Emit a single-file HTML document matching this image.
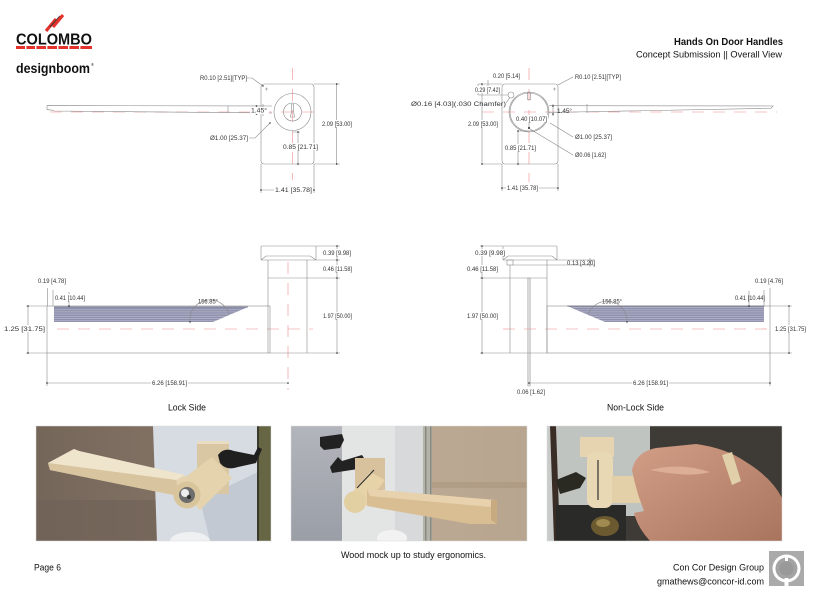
<!DOCTYPE html>
<html><head><meta charset="utf-8"><style>
html,body{margin:0;padding:0;background:#fff;width:818px;height:600px;overflow:hidden}
svg{display:block}
.d{font-family:"Liberation Sans",sans-serif;font-size:6.1px;fill:#333}
.t{font-family:"Liberation Sans",sans-serif;fill:#111}
</style></head><body>
<svg width="818" height="600" viewBox="0 0 818 600" xmlns="http://www.w3.org/2000/svg">
<defs>
<clipPath id="c1"><rect x="36" y="426" width="235" height="115"/></clipPath>
<clipPath id="c2"><rect x="291" y="426" width="236" height="115"/></clipPath>
<clipPath id="c3"><rect x="547" y="426" width="235" height="115"/></clipPath>
<linearGradient id="g1" x1="0" x2="1" y1="0" y2="0"><stop offset="0" stop-color="#75665a"/><stop offset="1" stop-color="#8b7b6c"/></linearGradient>
<linearGradient id="g2" x1="0" x2="0" y1="0" y2="1"><stop offset="0" stop-color="#b2b5bb"/><stop offset="1" stop-color="#9a9ea6"/></linearGradient>
<linearGradient id="g3" x1="0" x2="1" y1="0" y2="0"><stop offset="0" stop-color="#c1ae98"/><stop offset="1" stop-color="#b8a58f"/></linearGradient>
<linearGradient id="hand" x1="0" x2="1" y1="0" y2="1"><stop offset="0" stop-color="#d29e86"/><stop offset="1" stop-color="#a8745e"/></linearGradient>
<pattern id="hatch" width="4" height="2.2" patternUnits="userSpaceOnUse"><rect width="4" height="2.2" fill="#8d8fac"/><rect y="1.4" width="4" height="0.6" fill="#c3c4d4"/></pattern>
</defs>

<!-- Logos -->
<g>
<line x1="46" y1="31" x2="56" y2="19" stroke="#e3312b" stroke-width="3.2"/>
<line x1="50" y1="27" x2="60" y2="16" stroke="#3a3a3a" stroke-width="1.2"/>
<line x1="53" y1="27" x2="63" y2="15" stroke="#e3312b" stroke-width="3.2"/>
<text x="16" y="44.5" class="t" font-weight="bold" font-size="16" textLength="76" lengthAdjust="spacingAndGlyphs" fill="#2b2b2b">COLOMBO</text>
<rect x="16" y="46" width="76" height="3" fill="#e3312b"/>
<g fill="#fff"><rect x="25" y="46" width="1.4" height="3"/><rect x="35" y="46" width="1.4" height="3"/><rect x="46" y="46" width="1.4" height="3"/><rect x="57" y="46" width="1.4" height="3"/><rect x="68" y="46" width="1.4" height="3"/><rect x="79" y="46" width="1.4" height="3"/></g>
<text x="16" y="73" class="t" font-weight="bold" font-size="13.5" textLength="74" lengthAdjust="spacingAndGlyphs" fill="#1a1a1a">designboom</text>
<text x="91" y="66" class="t" font-size="4">®</text>
</g>

<!-- Header -->
<text x="783" y="45" text-anchor="end" class="t" font-weight="bold" font-size="10" textLength="109" lengthAdjust="spacingAndGlyphs">Hands On Door Handles</text>
<text x="782" y="57.5" text-anchor="end" class="t" font-size="9.5" textLength="146" lengthAdjust="spacingAndGlyphs">Concept Submission  ||  Overall View</text>

<!-- ============ TOP LEFT DRAWING ============ -->
<g stroke="#f08a8a" stroke-width="0.6" fill="none" stroke-dasharray="12 9">
<line x1="50" y1="112" x2="323" y2="112"/>
<line x1="292.5" y1="68" x2="292.5" y2="180"/>
</g>
<g stroke="#8a8a8a" stroke-width="0.6" fill="none">
<rect x="261" y="84" width="53" height="80" rx="3"/>
<circle cx="292.5" cy="112" r="18.5"/>
<circle cx="292.5" cy="112" r="9"/>
<path d="M291.5,104 h2 v7 l1,6 h-4 l1,-6 z"/>
<path d="M272,106 L47,105.6 L47,109.6 L53,110.3 L54,111 L272,113"/>
<line x1="228" y1="105.7" x2="228" y2="112"/>
<line x1="263" y1="104" x2="263" y2="116"/>
<path d="M247,78 H252 L263,86"/>
<path d="M265,89 h3 M266.5,87.5 v3"/>
<path d="M314,84 H340 M314,164 H340 M336.7,84 V164"/>
<path d="M249,138 H255 L270,123"/>
<path d="M298,132 V164 M292.5,132 H300"/>
<path d="M261,164 V193 M314,164 V193 M261,190 H314"/>
</g>
<g fill="#222"><circle cx="256.5" cy="106" r="0.8"/><circle cx="256.5" cy="114" r="0.8"/><circle cx="336.7" cy="84" r="0.8"/><circle cx="336.7" cy="164" r="0.8"/><circle cx="298" cy="132" r="0.8"/><circle cx="298" cy="164" r="0.8"/><circle cx="261" cy="190" r="0.8"/><circle cx="314" cy="190" r="0.8"/><circle cx="263" cy="86" r="0.7"/><circle cx="270" cy="123" r="0.7"/></g>
<g fill="#fff"><rect x="321" y="120" width="32" height="7"/><rect x="282" y="143" width="37" height="7"/><rect x="274" y="186" width="39" height="7"/><rect x="250" y="107" width="19" height="7"/></g>
<text class="d" x="200" y="80" textLength="47" lengthAdjust="spacingAndGlyphs">R0.10 [2.51][TYP]</text>
<text class="d" x="322" y="126" textLength="30" lengthAdjust="spacingAndGlyphs">2.09 [53.00]</text>
<text class="d" x="210" y="140" textLength="38" lengthAdjust="spacingAndGlyphs">Ø1.00 [25.37]</text>
<text class="d" x="283" y="149" textLength="35" lengthAdjust="spacingAndGlyphs">0.85 [21.71]</text>
<text class="d" x="275" y="192" textLength="37" lengthAdjust="spacingAndGlyphs">1.41 [35.78]</text>
<text class="d" x="251" y="112.5" textLength="16" lengthAdjust="spacingAndGlyphs">1.45°</text>

<!-- ============ TOP RIGHT DRAWING ============ -->
<g stroke="#f08a8a" stroke-width="0.6" fill="none" stroke-dasharray="12 9">
<line x1="482" y1="112" x2="777" y2="112"/>
<line x1="529" y1="68" x2="529" y2="182"/>
</g>
<g stroke="#8a8a8a" stroke-width="0.6" fill="none">
<rect x="502" y="84" width="56" height="80" rx="3"/>
<circle cx="529" cy="112" r="20"/>
<circle cx="529" cy="112" r="19"/>
<circle cx="511" cy="95" r="3"/>
<rect x="527.5" y="92.5" width="3" height="7"/>
<path d="M549,105.7 L773,106 L771,108.3 L549,112.5"/>
<line x1="587" y1="104" x2="587" y2="113"/>
<line x1="553" y1="104" x2="553" y2="116"/>
<path d="M478,84 H502 M478,84 V95 M478,95 H508 M488,80 V90"/>
<path d="M506,103 L510,97.5"/>
<path d="M573,77 L558,85"/>
<path d="M553,89 h3 M554.5,87.5 v3"/>
<path d="M482,84 V164 M482,164 H502"/>
<path d="M529,116 V128"/>
<path d="M550,123 L573,137"/>
<path d="M518,131 V164 M518,131 H529"/>
<path d="M530,129 L573,155"/>
<path d="M502,164 V191 M558,164 V191 M502,188 H558"/>
</g>
<g fill="#222"><circle cx="529" cy="128" r="1"/><circle cx="482" cy="84" r="0.8"/><circle cx="482" cy="164" r="0.8"/><circle cx="518" cy="131" r="0.8"/><circle cx="518" cy="164" r="0.8"/><circle cx="502" cy="188" r="0.8"/><circle cx="558" cy="188" r="0.8"/><circle cx="553" cy="106" r="0.8"/><circle cx="553" cy="114" r="0.8"/></g>
<g fill="#fff"><rect x="467" y="120" width="32" height="7"/><rect x="504" y="144" width="33" height="7"/><rect x="506" y="184" width="33" height="7"/><rect x="515" y="115" width="33" height="7"/><rect x="474" y="86" width="27" height="7"/></g>
<text class="d" x="493" y="78" textLength="27" lengthAdjust="spacingAndGlyphs">0.20 [5.14]</text>
<text class="d" x="475" y="92" textLength="25" lengthAdjust="spacingAndGlyphs">0.29 [7.42]</text>
<text class="d" x="411" y="106" textLength="95" lengthAdjust="spacingAndGlyphs">Ø0.16 [4.03](.030 Chamfer)</text>
<text class="d" x="575" y="79" textLength="46" lengthAdjust="spacingAndGlyphs">R0.10 [2.51][TYP]</text>
<text class="d" x="557" y="113" textLength="15" lengthAdjust="spacingAndGlyphs">1.45°</text>
<text class="d" x="468" y="126" textLength="30" lengthAdjust="spacingAndGlyphs">2.09 [53.00]</text>
<text class="d" x="516" y="121" textLength="31" lengthAdjust="spacingAndGlyphs">0.40 [10.07]</text>
<text class="d" x="575" y="139" textLength="37" lengthAdjust="spacingAndGlyphs">Ø1.00 [25.37]</text>
<text class="d" x="505" y="150" textLength="31" lengthAdjust="spacingAndGlyphs">0.85 [21.71]</text>
<text class="d" x="575" y="157" textLength="31" lengthAdjust="spacingAndGlyphs">Ø0.06 [1.62]</text>
<text class="d" x="507" y="190" textLength="31" lengthAdjust="spacingAndGlyphs">1.41 [35.78]</text>

<!-- ============ MIDDLE LEFT (Lock Side) ============ -->
<polygon points="54,307 248,307 213,322 54,322" fill="url(#hatch)"/>
<line x1="54" y1="307" x2="248" y2="307" stroke="#555a7a" stroke-width="0.8"/>
<g stroke="#f08a8a" stroke-width="0.6" fill="none" stroke-dasharray="12 9">
<line x1="57" y1="329" x2="313" y2="329"/>
<line x1="288" y1="262" x2="288" y2="390"/>
</g>
<g stroke="#8a8a8a" stroke-width="0.6" fill="none">
<rect x="261" y="246" width="55" height="14" rx="1"/>
<path d="M261,260 L266,256 H310 L316,260"/>
<path d="M268,260 V353 M307,260 V353"/>
<path d="M268,278 H340"/>
<rect x="47" y="306" width="223" height="47"/>
<path d="M316,246 H340 M316,260 H340 M337,246 V353 M270,353 H340"/>
<path d="M26,306 H47 M26,353 H47 M28,306 V353"/>
<path d="M47.5,288 V306 M53,290 V306 M69,292 V306"/>
<path d="M47,353 V386 M47,383 H288"/>
<path d="M190,322 A20,20 0 0 1 229,314"/>
</g>
<g fill="#222"><circle cx="337" cy="246" r="0.8"/><circle cx="337" cy="260" r="0.8"/><circle cx="337" cy="278" r="0.8"/><circle cx="337" cy="353" r="0.8"/><circle cx="28" cy="306" r="0.8"/><circle cx="28" cy="353" r="0.8"/><circle cx="47" cy="383" r="0.8"/><circle cx="288" cy="383" r="0.8"/><circle cx="69" cy="306" r="0.8"/><circle cx="190" cy="322" r="0.7"/></g>
<g fill="#fff"><rect x="322" y="249" width="30" height="7"/><rect x="322" y="265" width="31" height="7"/><rect x="322" y="312" width="31" height="7"/><rect x="3" y="325" width="43" height="7"/><rect x="151" y="379" width="37" height="7"/><rect x="37" y="277" width="30" height="7"/><rect x="54" y="294" width="32" height="7"/></g>
<text class="d" x="323" y="255" textLength="28" lengthAdjust="spacingAndGlyphs">0.39 [9.98]</text>
<text class="d" x="323" y="271" textLength="29" lengthAdjust="spacingAndGlyphs">0.46 [11.58]</text>
<text class="d" x="323" y="318" textLength="29" lengthAdjust="spacingAndGlyphs">1.97 [50.00]</text>
<text class="d" x="38" y="283" textLength="28" lengthAdjust="spacingAndGlyphs">0.19 [4.78]</text>
<text class="d" x="55" y="300" textLength="30" lengthAdjust="spacingAndGlyphs">0.41 [10.44]</text>
<text class="d" x="4" y="331" textLength="41" lengthAdjust="spacingAndGlyphs">1.25 [31.75]</text>
<text class="d" x="198" y="303.5" textLength="20" lengthAdjust="spacingAndGlyphs">156.85°</text>
<text class="d" x="152" y="385" textLength="35" lengthAdjust="spacingAndGlyphs">6.26 [158.91]</text>
<text class="t" x="168" y="410.5" font-size="9.5" textLength="38" lengthAdjust="spacingAndGlyphs">Lock Side</text>

<!-- ============ MIDDLE RIGHT (Non-Lock Side) ============ -->
<polygon points="567,306 764,306 764,322 605,322" fill="url(#hatch)"/>
<line x1="567" y1="306" x2="764" y2="306" stroke="#555a7a" stroke-width="0.8"/>
<rect x="527.7" y="278" width="2.5" height="108" fill="#d8d8d8" stroke="#999" stroke-width="0.4"/>
<g stroke="#f08a8a" stroke-width="0.6" fill="none" stroke-dasharray="12 9">
<line x1="503" y1="329" x2="770" y2="329"/>
</g>
<g stroke="#8a8a8a" stroke-width="0.6" fill="none">
<rect x="503" y="246" width="54" height="14" rx="1"/>
<path d="M503,260 L508,256 H552 L557,260"/>
<rect x="507" y="260" width="6" height="5"/>
<path d="M510,265 V353 M547,260 V353"/>
<path d="M480,278 H547"/>
<rect x="547" y="306" width="223" height="47"/>
<path d="M480,246 H503 M482,246 V353 M480,353 H547"/>
<path d="M557,260 H595 M513,265 H595 M590,258 V267"/>
<path d="M770,306 H792 M770,353 H792 M789,306 V353"/>
<path d="M764,290 V306 M770,288 V306 M749,291 V306"/>
<path d="M770,353 V386 M529,383 H770"/>
<path d="M588,315 A20,20 0 0 1 627,322"/>
</g>
<g fill="#222"><circle cx="482" cy="246" r="0.8"/><circle cx="482" cy="278" r="0.8"/><circle cx="482" cy="353" r="0.8"/><circle cx="789" cy="306" r="0.8"/><circle cx="789" cy="353" r="0.8"/><circle cx="529" cy="383" r="0.8"/><circle cx="770" cy="383" r="0.8"/><circle cx="749" cy="306" r="0.8"/><circle cx="627" cy="322" r="0.7"/></g>
<g fill="#fff"><rect x="474" y="249" width="32" height="7"/><rect x="466" y="265" width="33" height="7"/><rect x="466" y="312" width="33" height="7"/><rect x="774" y="325" width="33" height="7"/><rect x="632" y="379" width="37" height="7"/><rect x="516" y="388" width="30" height="7"/></g>
<text class="d" x="475" y="255" textLength="30" lengthAdjust="spacingAndGlyphs">0.39 [9.98]</text>
<text class="d" x="467" y="271" textLength="31" lengthAdjust="spacingAndGlyphs">0.46 [11.58]</text>
<text class="d" x="567" y="265" textLength="28" lengthAdjust="spacingAndGlyphs">0.13 [3.20]</text>
<text class="d" x="467" y="318" textLength="31" lengthAdjust="spacingAndGlyphs">1.97 [50.00]</text>
<text class="d" x="755" y="283" textLength="28" lengthAdjust="spacingAndGlyphs">0.19 [4.76]</text>
<text class="d" x="735" y="300" textLength="30" lengthAdjust="spacingAndGlyphs">0.41 [10.44]</text>
<text class="d" x="602" y="303.5" textLength="20" lengthAdjust="spacingAndGlyphs">156.85°</text>
<text class="d" x="775" y="331" textLength="31" lengthAdjust="spacingAndGlyphs">1.25 [31.75]</text>
<text class="d" x="633" y="385" textLength="35" lengthAdjust="spacingAndGlyphs">6.26 [158.91]</text>
<text class="d" x="517" y="394" textLength="28" lengthAdjust="spacingAndGlyphs">0.06 [1.62]</text>
<text class="t" x="607" y="410.5" font-size="9.5" textLength="57" lengthAdjust="spacingAndGlyphs">Non-Lock Side</text>

<!-- ============ PHOTO 1 ============ -->
<g clip-path="url(#c1)">
<rect x="36" y="426" width="235" height="115" fill="url(#g1)"/>
<rect x="36" y="500" width="120" height="41" fill="#6f6156" opacity="0.6"/>
<polygon points="153,426 262,426 262,541 157,541" fill="#d7dce2"/>
<polygon points="200,500 262,470 262,541 210,541" fill="#c2c9d2"/>
<rect x="258" y="426" width="13" height="115" fill="#676644"/>
<rect x="257" y="426" width="2" height="115" fill="#3a3a2a"/>
<rect x="197" y="441" width="32" height="53" fill="#d9c6a2"/>
<rect x="197" y="441" width="32" height="3" fill="#e8dcc2"/>
<path d="M218,455 q6,-8 16,-4 l20,4 l4,-8 l4,2 l-6,14 l-18,4 q-12,4 -18,-4 z" fill="#1f1f1f"/>
<polygon points="48,463 74,449 79,451 185,475 183,497 50,470" fill="#e5d4b4"/>
<polygon points="48,463 74,449 79,451 185,475 176,480" fill="#efe4cc"/>
<polygon points="50,470 183,497 176,480 48,463" fill="#d8c49e"/>
<polygon points="176,484 212,457 232,478 200,510" fill="#e4d3ad"/>
<circle cx="187" cy="495" r="13.5" fill="#d9c59c"/>
<circle cx="187" cy="495" r="8" fill="#6d6d6d"/>
<circle cx="185" cy="493" r="4" fill="#eeeeee"/>
<circle cx="189" cy="497" r="2" fill="#333"/>
<ellipse cx="190" cy="541" rx="20" ry="9" fill="#eef0f2"/>
</g>
<rect x="36" y="426" width="235" height="115" fill="none" stroke="#ddd" stroke-width="0.5"/>

<!-- ============ PHOTO 2 ============ -->
<g clip-path="url(#c2)">
<rect x="291" y="426" width="236" height="115" fill="url(#g3)"/>
<rect x="291" y="426" width="52" height="115" fill="url(#g2)"/>
<rect x="342" y="426" width="81" height="115" fill="#e3e5e5"/>
<rect x="395" y="426" width="28" height="115" fill="#d7d9da"/>
<rect x="423" y="426" width="9" height="115" fill="#b3b3aa"/>
<rect x="425" y="426" width="1.5" height="115" fill="#8a8a80"/>
<rect x="430" y="426" width="1.5" height="115" fill="#8a8a80"/>
<rect x="432" y="482" width="95" height="6" fill="#a8937a" opacity="0.5"/>
<path d="M320,437 l22,-3 l2,6 l-4,8 l-16,2 l-4,-4 z" fill="#222"/>
<path d="M330,467 l8,-10 l4,4 l20,-6 l4,6 l-8,8 l-26,4 z" fill="#222"/>
<rect x="355" y="458" width="30" height="32" fill="#d8c29e"/>
<polygon points="348,497 370,472 385,480 364,508" fill="#e6d3a8"/>
<polygon points="367,489 495,500 497,524 470,524 367,506" fill="#d9bd93"/>
<polygon points="367,489 495,500 490,507 370,496" fill="#e8d2ad"/>
<polygon points="491,500 497,500 497,524 491,520" fill="#c8aa80"/>
<ellipse cx="355" cy="502" rx="11" ry="11" fill="#e2cfa2"/>
<line x1="357" y1="488" x2="374" y2="470" stroke="#333" stroke-width="1.2"/>
<ellipse cx="392" cy="538" rx="15" ry="8" fill="#f2f2f2"/>
</g>
<rect x="291" y="426" width="236" height="115" fill="none" stroke="#ddd" stroke-width="0.5"/>

<!-- ============ PHOTO 3 ============ -->
<g clip-path="url(#c3)">
<rect x="547" y="426" width="235" height="115" fill="#3e3a35"/>
<rect x="547" y="426" width="103" height="90" fill="#c0c4c1"/>
<rect x="547" y="426" width="10" height="115" fill="#c8cbc9"/>
<polygon points="550,426 556,426 560,541 554,541" fill="#3a2d26"/>
<rect x="556" y="505" width="70" height="36" fill="#2a2a28"/>
<ellipse cx="605" cy="526" rx="14" ry="10" fill="#6b5a30"/>
<ellipse cx="603" cy="523" rx="7" ry="4" fill="#a08a50"/>
<path d="M556,480 l20,-8 l10,6 l-6,10 l-20,6 z" fill="#2a2a22"/>
<rect x="580" y="437" width="34" height="20" fill="#e6d4b0"/>
<rect x="587" y="452" width="26" height="56" rx="8" fill="#e8d8b4"/>
<line x1="598" y1="460" x2="598" y2="500" stroke="#333" stroke-width="1.2"/>
<rect x="612" y="476" width="42" height="27" fill="#e4d0a8"/>
<path d="M632,470 q4,-18 24,-22 l40,-4 q30,4 50,18 q26,16 36,36 l0,45 l-130,0 q-14,-14 -18,-30 l10,-2 q-8,-20 -12,-41 z" fill="url(#hand)"/>
<path d="M650,470 q30,-8 60,2 q-20,6 -60,-2 z" fill="#dcae96"/>
<polygon points="722,455 732,452 741,481 732,485" fill="#e0cfa8"/>
</g>
<rect x="547" y="426" width="235" height="115" fill="none" stroke="#ddd" stroke-width="0.5"/>

<!-- Footer -->
<text class="t" x="341" y="558" font-size="9" textLength="145" lengthAdjust="spacingAndGlyphs">Wood mock up to study ergonomics.</text>
<text class="t" x="34" y="570.5" font-size="9" textLength="27" lengthAdjust="spacingAndGlyphs">Page 6</text>
<text class="t" x="764" y="570.5" text-anchor="end" font-size="9" textLength="91" lengthAdjust="spacingAndGlyphs">Con Cor Design Group</text>
<text class="t" x="764" y="584.5" text-anchor="end" font-size="9" textLength="107" lengthAdjust="spacingAndGlyphs">gmathews@concor-id.com</text>
<rect x="769" y="551" width="35" height="35" fill="#aaaaaa"/>
<circle cx="786.5" cy="568.5" r="14" fill="#fff"/>
<circle cx="786.5" cy="568.5" r="11" fill="#a3a3a3"/>
<circle cx="786.5" cy="568.5" r="7" fill="#999"/>
<rect x="785" y="555" width="3" height="6" fill="#fff"/>
<rect x="784.5" y="578" width="4" height="8" fill="#fff"/>
</svg>
</body></html>
